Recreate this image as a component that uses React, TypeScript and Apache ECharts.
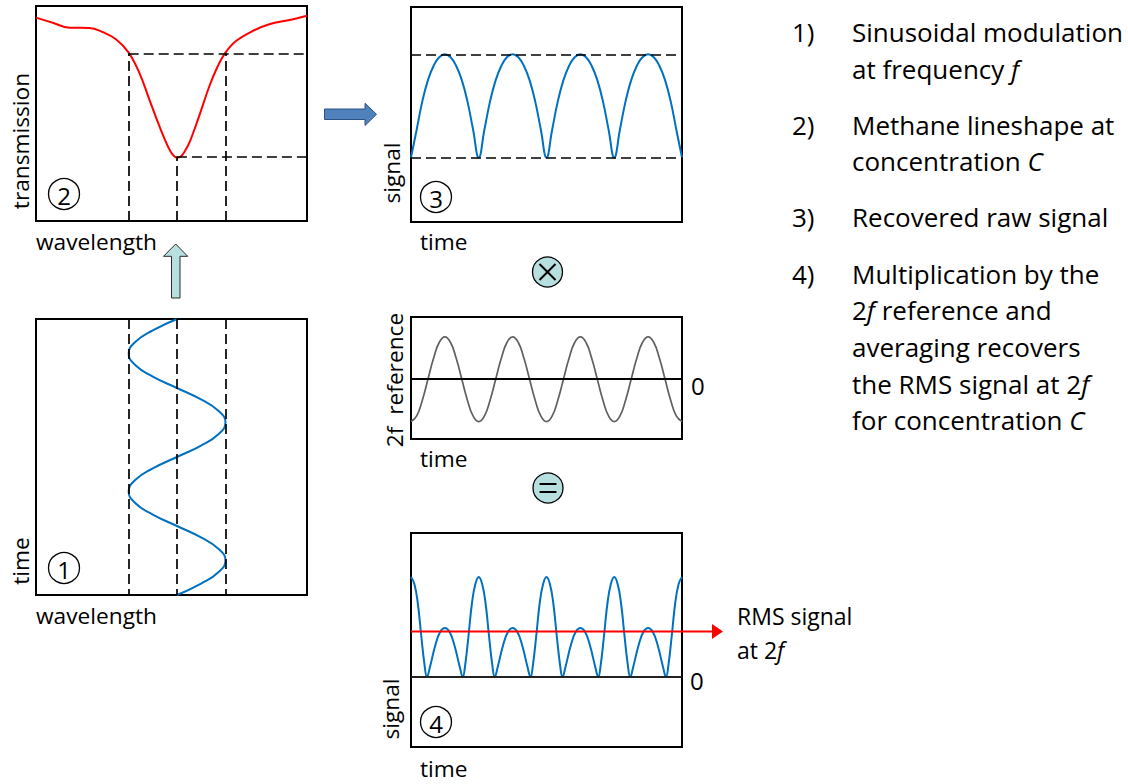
import React, { useEffect, useRef } from "react";
import * as echarts from "echarts";

const FONT = '"Open Sans", "Noto Sans", sans-serif';

// ---- Panel 2: methane lineshape (transmission vs wavelength, arbitrary units 0-100)
const LINE_WAVELENGTH = [0, 6.2, 12.3, 19.7, 24.6, 29.5, 34.2, 38.1, 41.8, 45.5, 48.6, 50.5, 52.0, 53.4, 54.8, 56.6, 60.2, 64.0, 67.1, 69.9, 73.8, 80.0, 86.1, 93.5, 100];
const LINE_TRANSMISSION = [0.946, 0.922, 0.899, 0.898, 0.879, 0.845, 0.783, 0.69, 0.566, 0.442, 0.349, 0.307, 0.295, 0.3, 0.322, 0.364, 0.488, 0.628, 0.721, 0.783, 0.837, 0.884, 0.915, 0.935, 0.955];
const MARK_WAVELENGTHS = [34.2, 52.0, 69.9]; // modulation minimum, centre, maximum
const MARK_TRANSMISSIONS = [0.78, 0.3]; // at modulation extremes, at line centre

// ---- Panel 1: sinusoidal wavelength modulation (time in periods of f)
const MOD_TIME = [0, 0.083, 0.167, 0.25, 0.333, 0.417, 0.5, 0.583, 0.667, 0.75, 0.833, 0.917, 1, 1.083, 1.167, 1.25, 1.333, 1.417, 1.5, 1.583, 1.667, 1.75, 1.833, 1.917, 2];
const MOD_WAVELENGTH = [52, 43.1, 36.6, 34.2, 36.6, 43.1, 52, 60.9, 67.4, 69.9, 67.4, 60.9, 52, 43.1, 36.6, 34.2, 36.6, 43.1, 52, 60.9, 67.4, 69.9, 67.4, 60.9, 52];

// ---- Panels 3 and 2f reference: common time samples
const SAMPLE_TIME = [
  0, 0.042, 0.083, 0.125, 0.167, 0.208, 0.25, 0.292, 0.333, 0.375, 0.417, 0.458,
  0.5, 0.542, 0.583, 0.625, 0.667, 0.708, 0.75, 0.792, 0.833, 0.875, 0.917, 0.958,
  1, 1.042, 1.083, 1.125, 1.167, 1.208, 1.25, 1.292, 1.333, 1.375, 1.417, 1.458,
  1.5, 1.542, 1.583, 1.625, 1.667, 1.708, 1.75, 1.792, 1.833, 1.875, 1.917, 1.958, 2,
];
const RAW_SIGNAL = [
  0.3, 0.43, 0.56, 0.66, 0.727, 0.766, 0.78, 0.766, 0.727, 0.66, 0.56, 0.43,
  0.3, 0.43, 0.56, 0.66, 0.727, 0.766, 0.78, 0.766, 0.727, 0.66, 0.56, 0.43,
  0.3, 0.43, 0.56, 0.66, 0.727, 0.766, 0.78, 0.766, 0.727, 0.66, 0.56, 0.43,
  0.3, 0.43, 0.56, 0.66, 0.727, 0.766, 0.78, 0.766, 0.727, 0.66, 0.56, 0.43, 0.3,
];
const REF_2F = [
  -0.68, -0.59, -0.34, 0, 0.34, 0.59, 0.68, 0.59, 0.34, 0, -0.34, -0.59,
  -0.68, -0.59, -0.34, 0, 0.34, 0.59, 0.68, 0.59, 0.34, 0, -0.34, -0.59,
  -0.68, -0.59, -0.34, 0, 0.34, 0.59, 0.68, 0.59, 0.34, 0, -0.34, -0.59,
  -0.68, -0.59, -0.34, 0, 0.34, 0.59, 0.68, 0.59, 0.34, 0, -0.34, -0.59, -0.68,
];

// ---- Panel 4: product signal
const DEMOD_TIME = [
  0, 0.025, 0.05, 0.075, 0.1, 0.118, 0.14, 0.18, 0.215, 0.25, 0.285, 0.32, 0.36, 0.382, 0.4, 0.425, 0.45, 0.475,
  0.5, 0.525, 0.55, 0.575, 0.6, 0.618, 0.64, 0.68, 0.715, 0.75, 0.785, 0.82, 0.86, 0.882, 0.9, 0.925, 0.95, 0.975,
  1, 1.025, 1.05, 1.075, 1.1, 1.118, 1.14, 1.18, 1.215, 1.25, 1.285, 1.32, 1.36, 1.382, 1.4, 1.425, 1.45, 1.475,
  1.5, 1.525, 1.55, 1.575, 1.6, 1.618, 1.64, 1.68, 1.715, 1.75, 1.785, 1.82, 1.86, 1.882, 1.9, 1.925, 1.95, 1.975, 2,
];
const DEMOD_SIGNAL = [
  1, 0.93, 0.74, 0.42, 0.12, 0, 0.1, 0.32, 0.45, 0.49, 0.45, 0.32, 0.1, 0, 0.12, 0.42, 0.74, 0.93,
  1, 0.93, 0.74, 0.42, 0.12, 0, 0.1, 0.32, 0.45, 0.49, 0.45, 0.32, 0.1, 0, 0.12, 0.42, 0.74, 0.93,
  1, 0.93, 0.74, 0.42, 0.12, 0, 0.1, 0.32, 0.45, 0.49, 0.45, 0.32, 0.1, 0, 0.12, 0.42, 0.74, 0.93,
  1, 0.93, 0.74, 0.42, 0.12, 0, 0.1, 0.32, 0.45, 0.49, 0.45, 0.32, 0.1, 0, 0.12, 0.42, 0.74, 0.93, 1,
];
const RMS_LEVEL = 0.455;

// ---- Texts
const AXIS_LABELS = ["transmission", "wavelength", "time", "wavelength", "signal", "time", "2f  reference", "time", "signal", "time"];
const ZERO_LABEL = "0";
const RMS_LABELS = ["RMS signal", "at 2{i|f}"];
const NOTE_NUMBERS = ["1)", "2)", "3)", "4)"];
const NOTE_LINES = [
  ["Sinusoidal modulation", "at frequency {i|f}"],
  ["Methane lineshape at", "concentration {i|C}"],
  ["Recovered raw signal"],
  ["Multiplication by the", "2{i|f} reference and", "averaging recovers", "the RMS signal at 2{i|f}", "for concentration {i|C}"],
];
const STEP_NUMBERS = ["2", "1", "3", "4"];

const zip = (xs: number[], ys: number[]) => xs.map((x, i) => [x, ys[i]]);

const BLUE = "#0070c0";
const DASH = { color: "#000", width: 1.7, type: [10, 5] as any };
const CIRCLE_FILL = "#b7dfe0";
const AX = 22.7;
const NOTE = 26;

function text(x: number, y: number, t: string, size: number, extra: any = {}) {
  return {
    type: "text",
    x,
    y,
    rotation: extra.rot ? Math.PI / 2 : 0,
    z: 10,
    style: {
      text: t,
      fontFamily: FONT,
      fontSize: size,
      fill: "#000",
      textAlign: extra.align || "left",
      textVerticalAlign: "middle",
      rich: {
        i: { fontFamily: FONT, fontSize: size, fontStyle: "italic", fill: "#000" },
      },
    },
  };
}

function buildStatic(): any[] {
  const g: any[] = [];
  const L = AXIS_LABELS;
  g.push(text(20, 141, L[0], AX, { rot: true, align: "center" }));
  g.push(text(36, 241, L[1], AX));
  g.push(text(20, 561, L[2], AX, { rot: true, align: "center" }));
  g.push(text(36, 615, L[3], AX));
  g.push(text(391, 173, L[4], AX, { rot: true, align: "center" }));
  g.push(text(420, 241, L[5], AX));
  g.push(text(394, 380, L[6], AX, { rot: true, align: "center" }));
  g.push(text(420, 458, L[7], AX));
  g.push(text(390, 709, L[8], AX, { rot: true, align: "center" }));
  g.push(text(420, 768, L[9], AX));

  g.push(text(691, 385, ZERO_LABEL, 24));
  g.push(text(690, 680, ZERO_LABEL, 24));
  g.push(text(737, 616, RMS_LABELS[0], 23));
  g.push(text(737, 650, RMS_LABELS[1], 23));

  // numbered circles
  const circ = [
    [64, 194],
    [64, 568],
    [436, 197],
    [436, 722],
  ];
  circ.forEach(([cx, cy], i) => {
    g.push({ type: "circle", z: 10, shape: { cx, cy, r: 15.5 }, style: { fill: "#fff", stroke: "#000", lineWidth: 1.3 } });
    g.push(text(cx, cy + 1, STEP_NUMBERS[i], 24, { align: "center" }));
  });

  // ⊗ and ⊜
  g.push({ type: "circle", z: 10, shape: { cx: 547.5, cy: 272, r: 15 }, style: { fill: CIRCLE_FILL, stroke: "#000", lineWidth: 1.3 } });
  g.push({ type: "line", z: 11, shape: { x1: 539.5, y1: 264, x2: 555.5, y2: 280 }, style: { stroke: "#000", lineWidth: 2 } });
  g.push({ type: "line", z: 11, shape: { x1: 555.5, y1: 264, x2: 539.5, y2: 280 }, style: { stroke: "#000", lineWidth: 2 } });
  g.push({ type: "circle", z: 10, shape: { cx: 548, cy: 488, r: 15 }, style: { fill: CIRCLE_FILL, stroke: "#000", lineWidth: 1.3 } });
  g.push({ type: "line", z: 11, shape: { x1: 539.5, y1: 484, x2: 556.5, y2: 484 }, style: { stroke: "#000", lineWidth: 2 } });
  g.push({ type: "line", z: 11, shape: { x1: 539.5, y1: 492, x2: 556.5, y2: 492 }, style: { stroke: "#000", lineWidth: 2 } });

  // up arrow (light blue)
  g.push({
    type: "polygon",
    z: 10,
    shape: {
      points: [
        [175.7, 244], [187.7, 256.3], [180, 256.3], [180, 298], [171.5, 298], [171.5, 256.3], [163.5, 256.3],
      ],
    },
    style: { fill: CIRCLE_FILL, stroke: "#2a2a2a", lineWidth: 1 },
  });
  // right arrow (blue)
  g.push({
    type: "polygon",
    z: 10,
    shape: {
      points: [
        [324.5, 109], [365, 109], [365, 103.3], [376.5, 114.3], [365, 125.5], [365, 119.5], [324.5, 119.5],
      ],
    },
    style: { fill: "#4f81bd", stroke: "#2e5283", lineWidth: 1 },
  });

  // right-hand notes
  const noteY = [
    [32, 69],
    [125, 161],
    [217],
    [274, 310, 347, 384, 420],
  ];
  NOTE_LINES.forEach((lines, p) => {
    g.push(text(792, noteY[p][0], NOTE_NUMBERS[p], NOTE));
    lines.forEach((ln, k) => g.push(text(852, noteY[p][k], ln, NOTE)));
  });
  return g;
}

function buildOption(extraGraphic: any[]) {
  const grids = [
    { left: 36, top: 6, width: 271, height: 215 },
    { left: 36, top: 319, width: 271, height: 276 },
    { left: 411, top: 7, width: 271, height: 215 },
    { left: 411, top: 317, width: 271, height: 122 },
    { left: 411, top: 533, width: 271, height: 214 },
  ].map((g) => ({ ...g, show: true, borderColor: "#000", borderWidth: 2, backgroundColor: "transparent", containLabel: false }));

  const xr = [[0, 100], [0, 100], [0, 2], [0, 2], [0, 2]];
  const yr = [[0, 1], [0, 2], [0, 1], [-0.96, 1], [-0.7, 1.44]];
  const xAxis = xr.map(([min, max], i) => ({ gridIndex: i, type: "value", min, max, show: false }));
  const yAxis = yr.map(([min, max], i) => ({ gridIndex: i, type: "value", min, max, show: false, inverse: i === 1 }));

  const ml = (data: any[], lineStyle: any) => ({
    silent: true,
    symbol: ["none", "none"],
    label: { show: false },
    emphasis: { disabled: true },
    lineStyle,
    data,
  });

  const [w0, w1, w2] = MARK_WAVELENGTHS;
  const [tHi, tLo] = MARK_TRANSMISSIONS;

  const series: any[] = [
    {
      type: "line",
      xAxisIndex: 0,
      yAxisIndex: 0,
      data: zip(LINE_WAVELENGTH, LINE_TRANSMISSION),
      smooth: 0.4,
      showSymbol: false,
      symbol: "none",
      lineStyle: { color: "#ff0000", width: 2 },
      markLine: ml(
        [
          [{ coord: [w0, tHi] }, { coord: [100, tHi] }],
          [{ coord: [w1, tLo] }, { coord: [100, tLo] }],
          [{ coord: [w0, 0] }, { coord: [w0, tHi] }],
          [{ coord: [w1, 0] }, { coord: [w1, tLo] }],
          [{ coord: [w2, 0] }, { coord: [w2, tHi] }],
        ],
        DASH
      ),
    },
    {
      type: "line",
      xAxisIndex: 1,
      yAxisIndex: 1,
      data: zip(MOD_WAVELENGTH, MOD_TIME),
      smooth: 0.5,
      symbol: "none",
      lineStyle: { color: BLUE, width: 2 },
      markLine: ml(MARK_WAVELENGTHS.map((w) => ({ xAxis: w })), DASH),
    },
    {
      type: "line",
      xAxisIndex: 2,
      yAxisIndex: 2,
      data: zip(SAMPLE_TIME, RAW_SIGNAL),
      smooth: 0.45,
      symbol: "none",
      lineStyle: { color: BLUE, width: 2 },
      markLine: ml(MARK_TRANSMISSIONS.map((v) => ({ yAxis: v })), DASH),
    },
    {
      type: "line",
      xAxisIndex: 3,
      yAxisIndex: 3,
      data: zip(SAMPLE_TIME, REF_2F),
      smooth: 0.5,
      symbol: "none",
      lineStyle: { color: "#606060", width: 1.7 },
      markLine: ml([{ yAxis: 0 }], { color: "#000", width: 1.8, type: "solid" }),
    },
    {
      type: "line",
      xAxisIndex: 4,
      yAxisIndex: 4,
      data: zip(DEMOD_TIME, DEMOD_SIGNAL),
      smooth: 0.45,
      symbol: "none",
      lineStyle: { color: BLUE, width: 2 },
      markLine: ml([{ yAxis: 0 }], { color: "#222", width: 1.8, type: "solid" }),
    },
  ];

  return {
    animation: false,
    backgroundColor: "#fff",
    textStyle: { fontFamily: FONT },
    grid: grids,
    xAxis,
    yAxis,
    series,
    graphic: [...buildStatic(), ...extraGraphic],
  };
}

export default function App() {
  const ref = useRef<HTMLDivElement>(null);
  useEffect(() => {
    if (!ref.current) return;
    const chart = echarts.init(ref.current, null, { renderer: "svg" });
    chart.setOption(buildOption([]));
    const p0 = chart.convertToPixel({ gridIndex: 4 } as any, [0, RMS_LEVEL]) as number[];
    const y = p0[1];
    const tipX = 723;
    const arrow = [
      { type: "line", z: 9, shape: { x1: p0[0], y1: y, x2: tipX - 10, y2: y }, style: { stroke: "#ff0000", lineWidth: 2 } },
      { type: "polygon", z: 9, shape: { points: [[tipX, y], [tipX - 11, y - 7.5], [tipX - 11, y + 7.5]] }, style: { fill: "#ff0000" } },
    ];
    chart.setOption(buildOption(arrow), true);
    return () => chart.dispose();
  }, []);
  return (
    <div
      ref={ref}
      style={{ position: "fixed", left: 0, top: 0, width: 1128, height: 784, background: "#fff" }}
    />
  );
}
